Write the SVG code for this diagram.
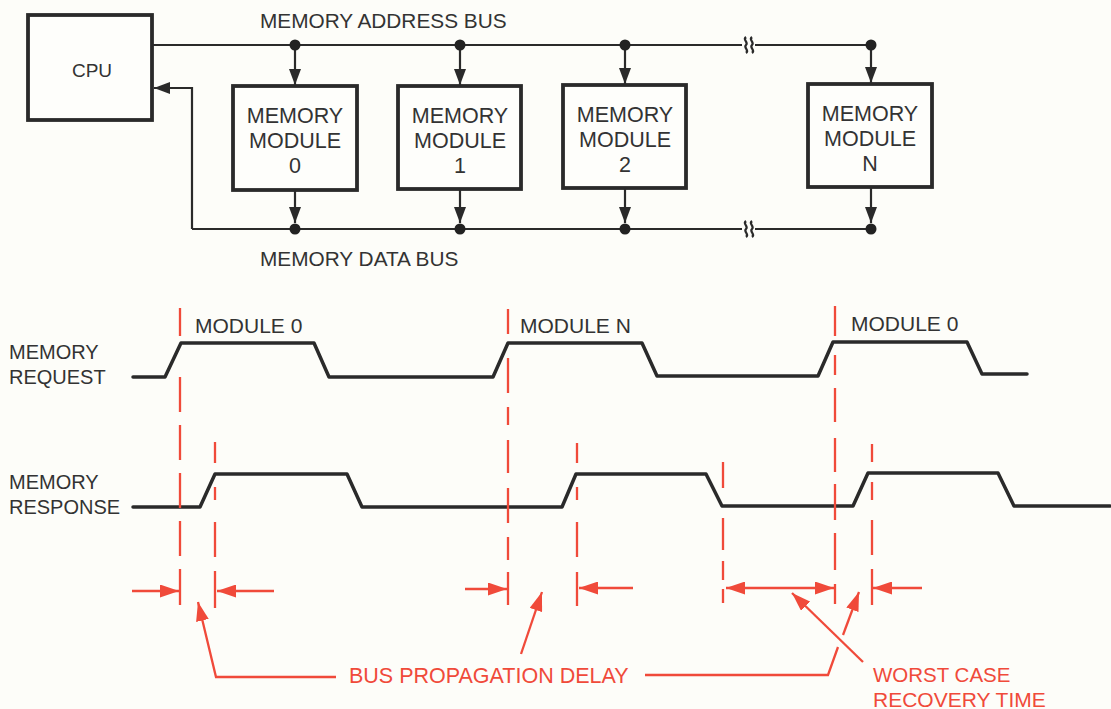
<svg xmlns="http://www.w3.org/2000/svg" width="1111" height="709" viewBox="0 0 1111 709">
<defs>
<style>
.t{font-family:"Liberation Sans",Arial,sans-serif;fill:#333;font-size:20px}
.m{font-size:21.5px}
.tc{text-anchor:middle}
.rt{font-family:"Liberation Sans",Arial,sans-serif;fill:#f04a3a;font-size:21.5px}
.box{fill:#fefefb;stroke:#2a2a2a;stroke-width:3.8}
.bus{fill:none;stroke:#2a2a2a;stroke-width:2.2}
.wave{fill:none;stroke:#2a2a2a;stroke-width:3.5;stroke-linejoin:round;stroke-linecap:round}
.red{fill:none;stroke:#f04a3a;stroke-width:2.3}
.dot{fill:#222}
</style>
<marker id="ab" markerUnits="userSpaceOnUse" markerWidth="16" markerHeight="12" refX="16" refY="6" orient="auto"><path d="M0,0 L16,6 L0,12 z" fill="#2a2a2a"/></marker>
<marker id="ar" markerUnits="userSpaceOnUse" markerWidth="19" markerHeight="13" refX="19" refY="6.5" orient="auto-start-reverse"><path d="M0,0 L19,6.5 L0,13 z" fill="#f04a3a"/></marker>
</defs>
<rect width="1111" height="709" fill="#fdfdf9"/>

<g id="cpu"><rect class="box" x="28" y="15" width="124" height="105"/><text class="t tc" x="92" y="77" style="font-size:19px">CPU</text></g>
<g id="mod0"><rect class="box" x="233" y="86" width="124" height="104"/><text class="t tc m" x="295" y="123">MEMORY</text><text class="t tc m" x="295" y="148">MODULE</text><text class="t tc m" x="295" y="173">0</text></g>
<g id="mod1"><rect class="box" x="398" y="86" width="123" height="103"/><text class="t tc m" x="460" y="123">MEMORY</text><text class="t tc m" x="460" y="148">MODULE</text><text class="t tc m" x="460" y="173">1</text></g>
<g id="mod2"><rect class="box" x="563" y="85" width="123" height="103"/><text class="t tc m" x="625" y="122">MEMORY</text><text class="t tc m" x="625" y="147">MODULE</text><text class="t tc m" x="625" y="172">2</text></g>
<g id="modN"><rect class="box" x="808" y="84" width="124" height="103"/><text class="t tc m" x="870" y="121">MEMORY</text><text class="t tc m" x="870" y="146">MODULE</text><text class="t tc m" x="870" y="171">N</text></g>

<g id="bus-labels">
<text class="t" x="260" y="28" style="font-size:20.8px">MEMORY ADDRESS BUS</text>
<text class="t" x="260" y="266" style="font-size:20.8px">MEMORY DATA BUS</text>
</g>

<g id="connectors">
<path class="bus" d="M152,45 H742 M755,45 H871"/>
<path class="bus" d="M746,37 c-4,3 3,5 0,8 s4,5 0,8 M752,37 c-4,3 3,5 0,8 s4,5 0,8"/>
<path class="bus" d="M192,229 H742 M755,229 H871"/>
<path class="bus" d="M746,221 c-4,3 3,5 0,8 s4,5 0,8 M752,221 c-4,3 3,5 0,8 s4,5 0,8"/>
<path class="bus" d="M192,229 V88 H154" marker-end="url(#ab)"/>
<path class="bus" d="M295,45 V85" marker-end="url(#ab)"/>
<path class="bus" d="M460,45 V85" marker-end="url(#ab)"/>
<path class="bus" d="M625,45 V84" marker-end="url(#ab)"/>
<path class="bus" d="M871,45 V83" marker-end="url(#ab)"/>
<path class="bus" d="M295,191 V223" marker-end="url(#ab)"/>
<path class="bus" d="M460,190 V223" marker-end="url(#ab)"/>
<path class="bus" d="M625,189 V223" marker-end="url(#ab)"/>
<path class="bus" d="M871,188 V223" marker-end="url(#ab)"/>
<circle class="dot" cx="295" cy="45" r="5.5"/><circle class="dot" cx="460" cy="45" r="5.5"/><circle class="dot" cx="625" cy="45" r="5.5"/><circle class="dot" cx="871" cy="45" r="5.5"/>
<circle class="dot" cx="295" cy="229" r="5.5"/><circle class="dot" cx="460" cy="229" r="5.5"/><circle class="dot" cx="625" cy="229" r="5.5"/><circle class="dot" cx="871" cy="229" r="5.5"/>
</g>

<g id="timing">
<text class="t" x="9" y="359">MEMORY</text>
<text class="t" x="9" y="384">REQUEST</text>
<text class="t" x="9" y="489">MEMORY</text>
<text class="t" x="9" y="514">RESPONSE</text>
<text class="t" x="195" y="333" style="font-size:21px">MODULE 0</text>
<text class="t" x="520" y="333" style="font-size:21px">MODULE N</text>
<text class="t" x="851" y="331" style="font-size:21px">MODULE 0</text>
<path class="wave" d="M133,377 H165 L181,343 H314 L329,377 H493 L508,343 H642 L657,376 H818 L833,342 H967 L982,374 H1027"/>
<path class="wave" d="M133,507 H200 L215,474 H347 L362,507 H562 L576,474 H706 L722,506 H853 L868,473 H998 L1014,506 H1110"/>
</g>

<g id="annotations">
<path class="red" d="M180,308 V336 M180,377 V412 M180,425 V460 M180,473 V508 M180,521 V556 M180,569 V605"/>
<path class="red" d="M215,442 V463 M215,487 V500 M215,522 V557 M215,571 V608"/>
<path class="red" d="M508,309 V334 M508,358 V393 M508,407 V425 M508,440 V473 M508,488 V523 M508,537 V560 M508,572 V605"/>
<path class="red" d="M577,443 V463 M577,487 V500 M577,522 V557 M577,572 V606"/>
<path class="red" d="M723,462 V488 M723,518 V550 M723,561 V580 M723,589 V603"/>
<path class="red" d="M835,306 V336 M835,355 V375 M835,388 V422 M835,438 V472 M835,484 V520 M835,533 V570 M835,584 V604"/>
<path class="red" d="M872,444 V462 M872,482 V500 M872,520 V555 M872,569 V605"/>
<path class="red" d="M132,591 H179" marker-end="url(#ar)"/>
<path class="red" d="M274,591 H217" marker-end="url(#ar)"/>
<path class="red" d="M465,589 H507" marker-end="url(#ar)"/>
<path class="red" d="M633,588 H579" marker-end="url(#ar)"/>
<path class="red" d="M726,588 H834" marker-start="url(#ar)" marker-end="url(#ar)"/>
<path class="red" d="M922,588 H873" marker-end="url(#ar)"/>
<path class="red" d="M336,677 H216 L198,602" marker-end="url(#ar)"/>
<path class="red" d="M521,654 L542,592" marker-end="url(#ar)"/>
<path class="red" d="M645,675 H828 L838,647"/>
<path class="red" d="M843,635 L859,592" marker-end="url(#ar)"/>
<path class="red" d="M863,662 L792,593" marker-end="url(#ar)"/>
<text class="rt" x="349" y="683">BUS PROPAGATION DELAY</text>
<text class="rt" x="873" y="682" style="font-size:20.5px">WORST CASE</text>
<text class="rt" x="873" y="707" style="font-size:21px">RECOVERY TIME</text>
</g>
</svg>
